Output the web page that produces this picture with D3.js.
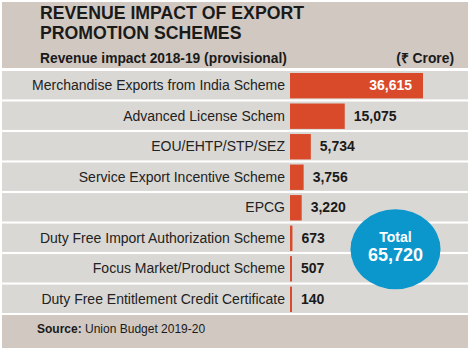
<!DOCTYPE html>
<html>
<head>
<meta charset="utf-8">
<script src="https://cdn.jsdelivr.net/npm/d3@7"></script>
<style>
  body { margin: 0; background: #fff; }
  svg text { font-family: "Liberation Sans", Arial, sans-serif; }
</style>
</head>
<body>
<svg id="chart" width="470" height="350"></svg>
<script>
// scheme names and revenue impact (Rs crore)
const categories = [
    "Merchandise Exports from India Scheme",
    "Advanced License Schem",
    "EOU/EHTP/STP/SEZ",
    "Service Export Incentive Scheme",
    "EPCG",
    "Duty Free Import Authorization Scheme",
    "Focus Market/Product Scheme",
    "Duty Free Entitlement Credit Certificate"
];
const values = [36615, 15075, 5734, 3756, 3220, 673, 507, 140];
const totalValue = 65720;

const svg = d3.select("#chart");
const fmt = d3.format(",");

// header and footer panels
svg.append("rect").attr("x", 2).attr("y", 2).attr("width", 466).attr("height", 66).attr("fill", "#d0c8c1");
svg.append("rect").attr("x", 2).attr("y", 315).attr("width", 466).attr("height", 33).attr("fill", "#d0c8c1");

svg.append("text").attr("x", 40).attr("y", 19.3).attr("font-size", "17.7px").attr("font-weight", "bold")
    .attr("fill", "#1a1a1a").text("REVENUE IMPACT OF EXPORT");
svg.append("text").attr("x", 40).attr("y", 39.3).attr("font-size", "17.7px").attr("font-weight", "bold")
    .attr("fill", "#1a1a1a").text("PROMOTION SCHEMES");
svg.append("text").attr("x", 40).attr("y", 62.7).attr("font-size", "13.8px").attr("font-weight", "bold")
    .attr("fill", "#1a1a1a").text("Revenue impact 2018-19 (provisional)");
svg.append("text").attr("x", 454).attr("y", 62.7).attr("font-size", "13.8px").attr("font-weight", "bold")
    .attr("text-anchor", "end").attr("fill", "#1a1a1a").text("(₹ Crore)");

let yScale = d3.scaleBand().domain(categories).range([71, 313]).paddingInner(0.07).paddingOuter(0);
let xScale = d3.scaleLinear().domain([0, values[0]]).range([290, 423]);

const rows = svg.selectAll("g.row").data(categories.map((c, i) => ({ name: c, value: values[i], i: i })))
    .join("g").attr("class", "row");

rows.append("rect").attr("x", 2).attr("width", 466)
    .attr("y", d => yScale(d.name)).attr("height", yScale.bandwidth())
    .attr("fill", "#dad8d4");

rows.append("rect").attr("x", xScale(0))
    .attr("y", d => yScale(d.name) + 2).attr("height", yScale.bandwidth() - 3)
    .attr("width", d => Math.max(2, xScale(d.value) - xScale(0)))
    .attr("fill", "#d94a2a");

rows.append("text").attr("x", 285)
    .attr("y", d => yScale(d.name) + yScale.bandwidth() / 2 + 5)
    .attr("text-anchor", "end").attr("font-size", "14px").attr("fill", "#222")
    .text(d => d.name);

rows.append("text")
    .attr("x", d => d.i === 0 ? xScale(d.value) - 11 : Math.max(xScale(d.value), xScale(0) + 2) + 9)
    .attr("y", d => yScale(d.name) + yScale.bandwidth() / 2 + 5)
    .attr("text-anchor", d => d.i === 0 ? "end" : "start")
    .attr("font-size", "14px").attr("font-weight", "bold")
    .attr("fill", d => d.i === 0 ? "#fff" : "#1a1a1a")
    .text(d => fmt(d.value));

// total bubble
svg.append("ellipse").attr("cx", 395.5).attr("cy", 249.3).attr("rx", 45).attr("ry", 40).attr("fill", "#0b97cc");
svg.append("text").attr("x", 395.5).attr("y", 241.7).attr("text-anchor", "middle")
    .attr("font-size", "14px").attr("font-weight", "bold").attr("fill", "#fff").text("Total");
svg.append("text").attr("x", 395.5).attr("y", 261).attr("text-anchor", "middle")
    .attr("font-size", "18px").attr("font-weight", "bold").attr("fill", "#fff").text(fmt(totalValue));

const src = svg.append("text").attr("x", 37).attr("y", 332.5).attr("font-size", "12px").attr("fill", "#1a1a1a");
src.append("tspan").attr("font-weight", "bold").text("Source:");
src.append("tspan").text(" Union Budget 2019-20");
</script>
</body>
</html>
